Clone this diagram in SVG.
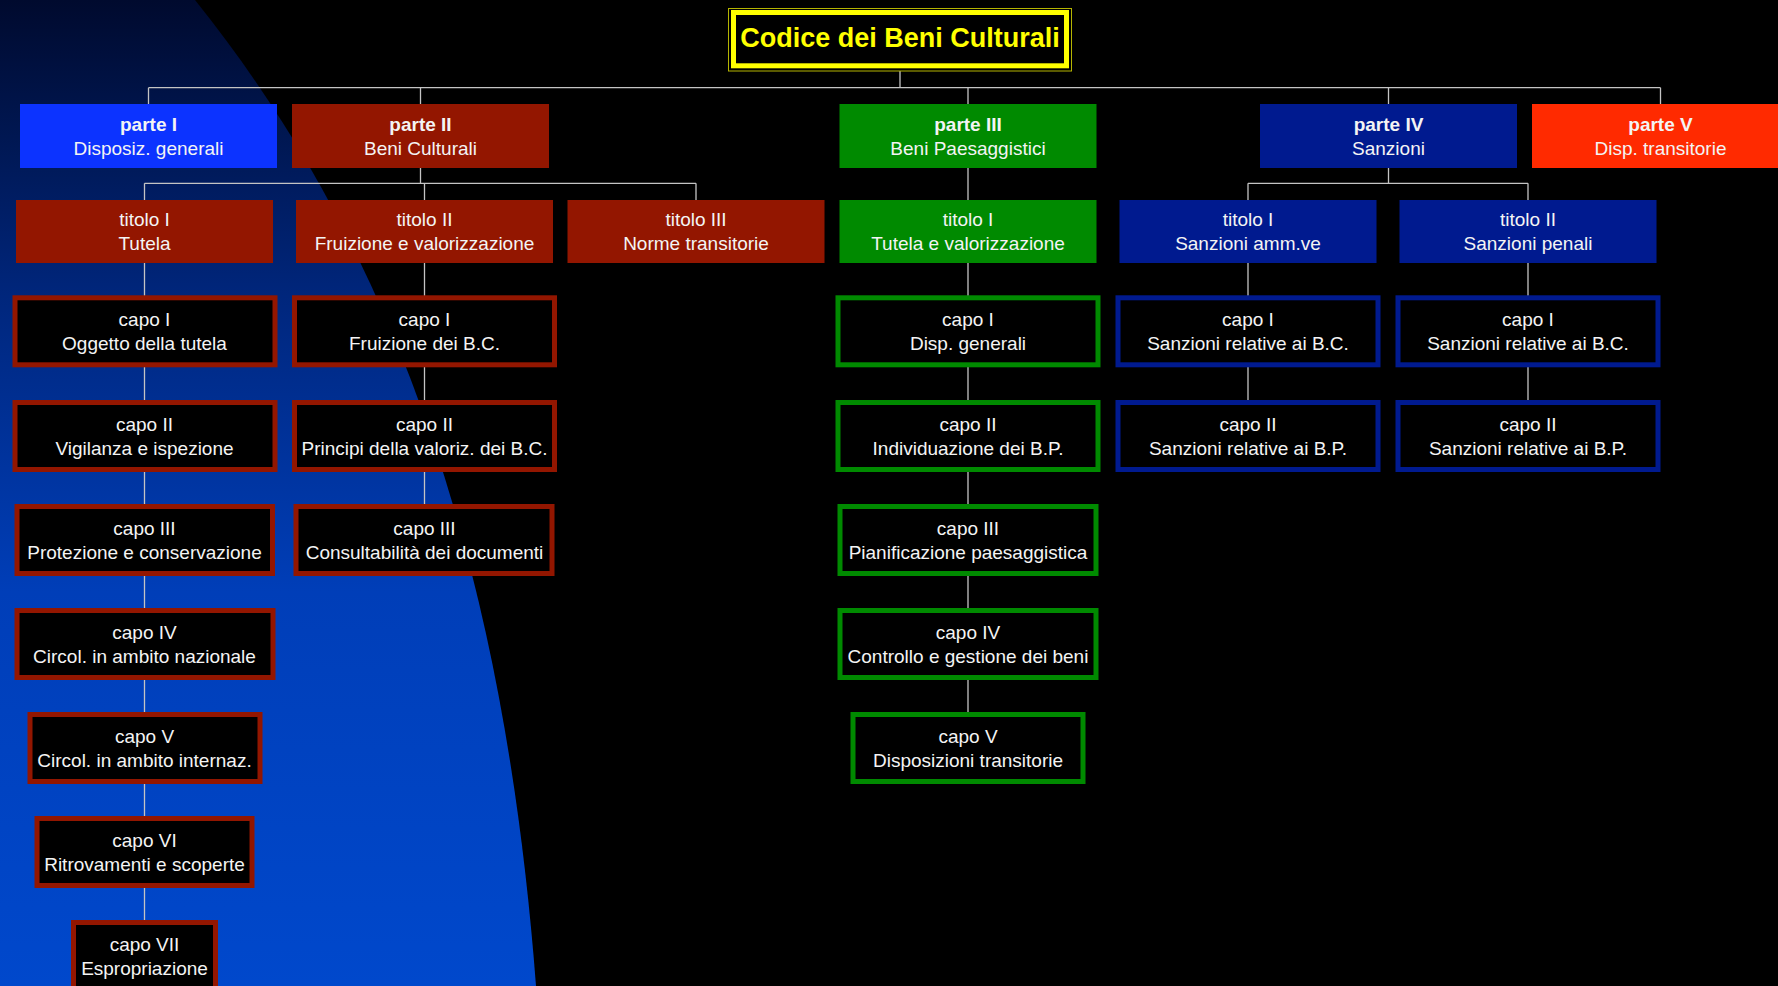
<svg xmlns="http://www.w3.org/2000/svg" width="1778" height="986" viewBox="0 0 1778 986">
<defs>
<linearGradient id="bgGrad" x1="0" y1="0" x2="0" y2="1">
<stop offset="0" stop-color="#000a2e"/>
<stop offset="0.3" stop-color="#00267c"/>
<stop offset="0.6" stop-color="#003eb8"/>
<stop offset="1" stop-color="#0048cc"/>
</linearGradient>
<style>
.conn{fill:none;stroke:#c4c4c4;stroke-width:1.3}
.t{font-family:"Liberation Sans",Arial,sans-serif;font-size:19px;fill:#f4f4f4;text-anchor:middle}
.b{font-weight:bold}
.title{font-family:"Liberation Sans",Arial,sans-serif;font-size:27px;font-weight:bold;fill:#ffff00;text-anchor:middle}
.red{fill:#931600}
.green{fill:#008a00}
.blue{fill:#001a8f}
.bright{fill:#0c33ff}
.orange{fill:#ff2a00}
.cr{fill:#000;stroke:#931600;stroke-width:5}
.cg{fill:#000;stroke:#008a00;stroke-width:5}
.cb{fill:#000;stroke:#001a8f;stroke-width:5}
</style>
</defs>
<rect x="0" y="0" width="1778" height="986" fill="#000"/>
<path d="M0,0 L195,0 C420,280 508,620 536,986 L0,986 Z" fill="url(#bgGrad)"/>

<g id="connectors">
<path class="conn" d="M900,71 V87.7 M148.5,87.7 H1660.5 M148.5,87.7 V104 M420.5,87.7 V104 M968,87.7 V104 M1388.5,87.7 V104 M1660.5,87.7 V104"/>
<path class="conn" d="M420.5,168 V183.3 M144.5,183.3 H696 M144.5,183.3 V200 M424.5,183.3 V200 M696,183.3 V200"/>
<path class="conn" d="M968,168 V200"/>
<path class="conn" d="M1388.5,168 V183.3 M1248,183.3 H1528 M1248,183.3 V200 M1528,183.3 V200"/>
<path class="conn" d="M144.5,263 V922 M424.5,263 V506 M968,263 V714 M1248,263 V402 M1528,263 V402"/>
</g>

<g id="root">
<rect x="728.5" y="8.5" width="343" height="62.5" fill="#000" stroke="#b4b400" stroke-width="1"/>
<rect x="733.5" y="12.5" width="333" height="53.3" fill="none" stroke="#ffff00" stroke-width="5"/>
<text class="title" x="900" y="47">Codice dei Beni Culturali</text>
</g>

<g id="parte1"><rect class="bright" x="20" y="104" width="257" height="64"/>
<text class="t b" x="148.5" y="130.5">parte I</text><text class="t" x="148.5" y="154.5">Disposiz. generali</text></g>
<g id="parte2"><rect class="red" x="292" y="104" width="257" height="64"/>
<text class="t b" x="420.5" y="130.5">parte II</text><text class="t" x="420.5" y="154.5">Beni Culturali</text></g>
<g id="parte3"><rect class="green" x="839.5" y="104" width="257" height="64"/>
<text class="t b" x="968" y="130.5">parte III</text><text class="t" x="968" y="154.5">Beni Paesaggistici</text></g>
<g id="parte4"><rect class="blue" x="1260" y="104" width="257" height="64"/>
<text class="t b" x="1388.5" y="130.5">parte IV</text><text class="t" x="1388.5" y="154.5">Sanzioni</text></g>
<g id="parte5"><rect class="orange" x="1532" y="104" width="257" height="64"/>
<text class="t b" x="1660.5" y="130.5">parte V</text><text class="t" x="1660.5" y="154.5">Disp. transitorie</text></g>

<g id="p2-titolo1"><rect class="red" x="16" y="200" width="257" height="63"/>
<text class="t" x="144.5" y="226">titolo I</text><text class="t" x="144.5" y="250">Tutela</text></g>
<g id="p2-titolo2"><rect class="red" x="296" y="200" width="257" height="63"/>
<text class="t" x="424.5" y="226">titolo II</text><text class="t" x="424.5" y="250">Fruizione e valorizzazione</text></g>
<g id="p2-titolo3"><rect class="red" x="567.5" y="200" width="257" height="63"/>
<text class="t" x="696" y="226">titolo III</text><text class="t" x="696" y="250">Norme transitorie</text></g>
<g id="p3-titolo1"><rect class="green" x="839.5" y="200" width="257" height="63"/>
<text class="t" x="968" y="226">titolo I</text><text class="t" x="968" y="250">Tutela e valorizzazione</text></g>
<g id="p4-titolo1"><rect class="blue" x="1119.5" y="200" width="257" height="63"/>
<text class="t" x="1248" y="226">titolo I</text><text class="t" x="1248" y="250">Sanzioni amm.ve</text></g>
<g id="p4-titolo2"><rect class="blue" x="1399.5" y="200" width="257" height="63"/>
<text class="t" x="1528" y="226">titolo II</text><text class="t" x="1528" y="250">Sanzioni penali</text></g>

<g id="t1-capo1"><rect class="cr" x="15" y="297.8" width="260" height="67"/>
<text class="t" x="144.5" y="326">capo I</text><text class="t" x="144.5" y="350">Oggetto della tutela</text></g>
<g id="t1-capo2"><rect class="cr" x="15" y="402.5" width="260" height="67"/>
<text class="t" x="144.5" y="430.5">capo II</text><text class="t" x="144.5" y="454.5">Vigilanza e ispezione</text></g>
<g id="t1-capo3"><rect class="cr" x="17" y="506.5" width="255.5" height="67"/>
<text class="t" x="144.5" y="534.5">capo III</text><text class="t" x="144.5" y="558.5">Protezione e conservazione</text></g>
<g id="t1-capo4"><rect class="cr" x="17" y="610.5" width="256" height="67"/>
<text class="t" x="144.5" y="638.5">capo IV</text><text class="t" x="144.5" y="662.5">Circol. in ambito nazionale</text></g>
<g id="t1-capo5"><rect class="cr" x="30" y="714.5" width="230" height="67"/>
<text class="t" x="144.5" y="742.5">capo V</text><text class="t" x="144.5" y="766.5">Circol. in ambito internaz.</text></g>
<g id="t1-capo6"><rect class="cr" x="37" y="818.5" width="215" height="67"/>
<text class="t" x="144.5" y="846.5">capo VI</text><text class="t" x="144.5" y="870.5">Ritrovamenti e scoperte</text></g>
<g id="t1-capo7"><rect class="cr" x="73.5" y="922.5" width="142" height="67"/>
<text class="t" x="144.5" y="950.5">capo VII</text><text class="t" x="144.5" y="974.5">Espropriazione</text></g>

<g id="t2-capo1"><rect class="cr" x="294.5" y="297.8" width="260" height="67"/>
<text class="t" x="424.5" y="326">capo I</text><text class="t" x="424.5" y="350">Fruizione dei B.C.</text></g>
<g id="t2-capo2"><rect class="cr" x="294.5" y="402.5" width="260" height="67"/>
<text class="t" x="424.5" y="430.5">capo II</text><text class="t" x="424.5" y="454.5">Principi della valoriz. dei B.C.</text></g>
<g id="t2-capo3"><rect class="cr" x="296" y="506.5" width="256" height="67"/>
<text class="t" x="424.5" y="534.5">capo III</text><text class="t" x="424.5" y="558.5">Consultabilità dei documenti</text></g>

<g id="g-capo1"><rect class="cg" x="838" y="297.8" width="260" height="67"/>
<text class="t" x="968" y="326">capo I</text><text class="t" x="968" y="350">Disp. generali</text></g>
<g id="g-capo2"><rect class="cg" x="838" y="402.5" width="260" height="67"/>
<text class="t" x="968" y="430.5">capo II</text><text class="t" x="968" y="454.5">Individuazione dei B.P.</text></g>
<g id="g-capo3"><rect class="cg" x="840" y="506.5" width="256" height="67"/>
<text class="t" x="968" y="534.5">capo III</text><text class="t" x="968" y="558.5">Pianificazione paesaggistica</text></g>
<g id="g-capo4"><rect class="cg" x="840" y="610.5" width="256" height="67"/>
<text class="t" x="968" y="638.5">capo IV</text><text class="t" x="968" y="662.5">Controllo e gestione dei beni</text></g>
<g id="g-capo5"><rect class="cg" x="853" y="714.5" width="230" height="67"/>
<text class="t" x="968" y="742.5">capo V</text><text class="t" x="968" y="766.5">Disposizioni transitorie</text></g>

<g id="b1-capo1"><rect class="cb" x="1118" y="297.8" width="260" height="67"/>
<text class="t" x="1248" y="326">capo I</text><text class="t" x="1248" y="350">Sanzioni relative ai B.C.</text></g>
<g id="b1-capo2"><rect class="cb" x="1118" y="402.5" width="260" height="67"/>
<text class="t" x="1248" y="430.5">capo II</text><text class="t" x="1248" y="454.5">Sanzioni relative ai B.P.</text></g>
<g id="b2-capo1"><rect class="cb" x="1398" y="297.8" width="260" height="67"/>
<text class="t" x="1528" y="326">capo I</text><text class="t" x="1528" y="350">Sanzioni relative ai B.C.</text></g>
<g id="b2-capo2"><rect class="cb" x="1398" y="402.5" width="260" height="67"/>
<text class="t" x="1528" y="430.5">capo II</text><text class="t" x="1528" y="454.5">Sanzioni relative ai B.P.</text></g>
</svg>
